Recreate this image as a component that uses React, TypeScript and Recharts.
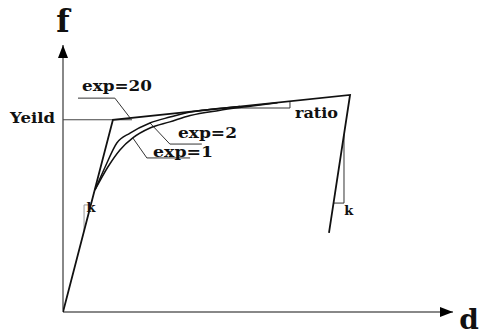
import { LineChart, Line, XAxis, YAxis, ReferenceLine, ReferenceDot } from 'recharts'

// displacement (d) / force (f) pairs, axis range 0..100
const envD = [0, 12.8, 73.6, 68.2]
const envF = [0, 72, 81.3, 29.6]

const exp2D = [8.2, 10.8, 13.8, 17.2, 22.3, 27.4, 32.6, 38.5, 45.4]
const exp2F = [45.7, 54.3, 63.3, 67.0, 70.8, 73.0, 74.9, 76.0, 77.0]

const exp1D = [8.2, 11.5, 14.6, 17.9, 22.3, 27.4, 32.6, 40.0, 47.0, 55.0]
const exp1F = [45.7, 54.3, 60.7, 65.2, 68.9, 71.2, 73.6, 75.5, 76.9, 78.4]

const yieldD = [0, 17.7]
const yieldF = [72, 72]

// leader lines and slope markers
const lead20D = [3.85, 13.3, 17.2]
const lead20F = [80.1, 80.1, 72.7]
const lead2D = [22.3, 27.4, 35.6]
const lead2F = [70.8, 62.9, 62.9]
const lead1D = [17.9, 21.5, 32.6]
const lead1F = [65.2, 57.7, 57.7]
const ratioD = [41.6, 58.2, 58.2]
const ratioF = [76.4, 76.4, 78.9]
const kElD = [5.4, 5.4, 7.1]
const kElF = [30.4, 40.1, 40.1]
const kUnD = [72.05, 72.05, 69.4]
const kUnF = [66.5, 40.8, 40.8]

const labelText = ['f', 'd', 'Yeild', 'exp=20', 'exp=2', 'exp=1', 'ratio', 'k', 'k']
const labelD = [0, 101.6, -7.8, 13.85, 37.05, 30.8, 65.0, 7.2, 73.3]
const labelF = [104.9, -6.4, 70.8, 82.8, 65.2, 58.05, 72.7, 37.5, 36.3]

const zip = (d: number[], f: number[]) => d.map((x, i) => ({ d: x, f: f[i] }))

const FONT = '"DejaVu Serif", serif'
const labelStyle = [
  { size: 31, anchor: 'middle' },
  { size: 28, anchor: 'start' },
  { size: 14, anchor: 'middle', len: 45 },
  { size: 14, anchor: 'middle', len: 70 },
  { size: 14, anchor: 'middle', len: 59 },
  { size: 14, anchor: 'middle', len: 60 },
  { size: 14, anchor: 'middle', len: 43 },
  { size: 13, anchor: 'middle' },
  { size: 13, anchor: 'middle' },
]

const textShape = (i: number) => (props: any) => {
  const s = labelStyle[i]
  return (
    <text
      x={props.cx}
      y={props.cy}
      textAnchor={s.anchor as any}
      fontFamily={FONT}
      fontWeight="bold"
      fontSize={s.size}
      fill="#111"
      textLength={s.len}
      lengthAdjust={s.len ? 'spacingAndGlyphs' : undefined}
    >
      {labelText[i]}
    </text>
  )
}

const arrowUp = (props: any) => (
  <polygon points={`${props.cx},${props.cy} ${props.cx - 5},${props.cy + 13} ${props.cx + 5},${props.cy + 13}`} fill="#000" />
)
const arrowRight = (props: any) => (
  <polygon points={`${props.cx},${props.cy} ${props.cx - 13},${props.cy - 5} ${props.cx - 13},${props.cy + 5}`} fill="#000" />
)

export default function App() {
  const thin = { stroke: '#333', strokeWidth: 1, dot: false, isAnimationActive: false, type: 'linear' as const }
  return (
    <div style={{ position: 'absolute', left: 0, top: 0 }}>
      <LineChart width={482} height={336} margin={{ top: 45, right: 29, bottom: 24, left: 63 }}>
        <XAxis type="number" dataKey="d" domain={[0, 100]} hide allowDataOverflow />
        <YAxis type="number" dataKey="f" domain={[0, 100]} hide allowDataOverflow />

        <ReferenceLine segment={[{ x: 0, y: 0 }, { x: 100, y: 0 }]} stroke="#888" strokeWidth={2} />
        <ReferenceLine segment={[{ x: 0, y: 0 }, { x: 0, y: 100 }]} stroke="#888" strokeWidth={2} />

        <Line data={zip(yieldD, yieldF)} dataKey="f" {...thin} stroke="#444" />
        <Line data={zip(lead20D, lead20F)} dataKey="f" {...thin} />
        <Line data={zip(lead2D, lead2F)} dataKey="f" {...thin} />
        <Line data={zip(lead1D, lead1F)} dataKey="f" {...thin} />
        <Line data={zip(ratioD, ratioF)} dataKey="f" {...thin} />
        <Line data={zip(kElD, kElF)} dataKey="f" {...thin} stroke="#999" />
        <Line data={zip(kUnD, kUnF)} dataKey="f" {...thin} />

        <Line data={zip(exp1D, exp1F)} dataKey="f" type="monotone" stroke="#111" strokeWidth={1.5} dot={false} isAnimationActive={false} />
        <Line data={zip(exp2D, exp2F)} dataKey="f" type="monotone" stroke="#111" strokeWidth={1.5} dot={false} isAnimationActive={false} />
        <Line data={zip(envD, envF)} dataKey="f" type="linear" stroke="#111" strokeWidth={1.8} dot={false} isAnimationActive={false} />

        <ReferenceDot x={0} y={100} r={0} ifOverflow="visible" shape={arrowUp} />
        <ReferenceDot x={100} y={0} r={0} ifOverflow="visible" shape={arrowRight} />

        {labelText.map((t, i) => (
          <ReferenceDot key={i} x={labelD[i]} y={labelF[i]} r={0} ifOverflow="visible" shape={textShape(i)} />
        ))}
      </LineChart>
    </div>
  )
}
